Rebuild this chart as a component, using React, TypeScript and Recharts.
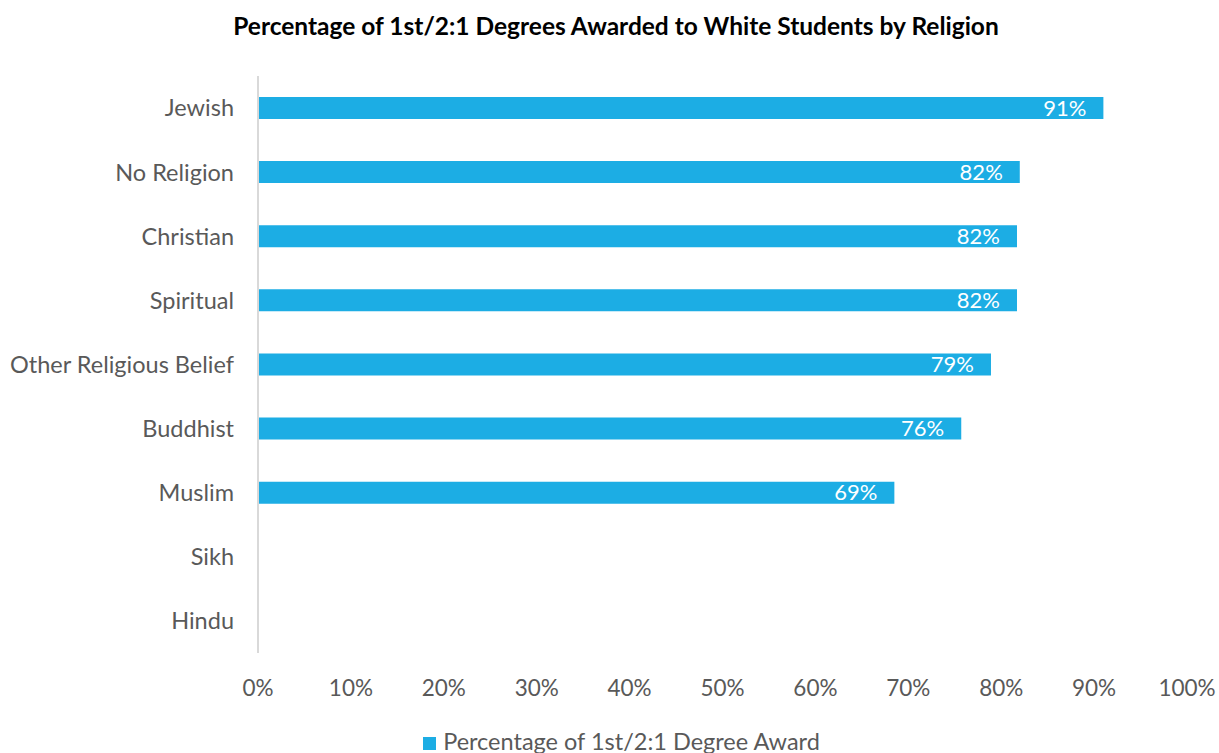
import { BarChart, Bar, XAxis, YAxis, Legend, LabelList } from 'recharts';

const categories = [
  'Jewish',
  'No Religion',
  'Christian',
  'Spiritual',
  'Other Religious Belief',
  'Buddhist',
  'Muslim',
  'Sikh',
  'Hindu',
];
const awardPct: (number | null)[] = [91.0, 82.0, 81.7, 81.7, 78.9, 75.7, 68.5, null, null];
const xTicks = [0, 10, 20, 30, 40, 50, 60, 70, 80, 90, 100];

const seriesName = 'Percentage of 1st/2:1 Degree Award';
const BLUE = '#1CADE4';
const FONT = 'Lato, "Open Sans", sans-serif';

const chartData = categories.map((name, i) => ({ name, value: awardPct[i] }));

const LegendContent = () => (
  <div
    style={{
      display: 'flex',
      justifyContent: 'center',
      alignItems: 'center',
      height: 30,
      paddingTop: 3,
      marginLeft: 56,
      fontFamily: FONT,
      fontSize: 23.5,
      color: '#595959',
    }}
  >
    <span style={{ display: 'inline-block', width: 13, height: 13, background: BLUE, marginRight: 7, marginTop: 4 }} />
    {seriesName}
  </div>
);

const App = () => {
  return (
    <div style={{ position: 'absolute', left: 0, top: 0, width: 1219, height: 753, background: '#fff' }}>
      <div
        style={{
          position: 'absolute',
          top: 11,
          left: 0,
          width: 1232,
          textAlign: 'center',
          fontFamily: FONT,
          fontWeight: 'bold',
          fontSize: 24.5,
          color: '#000',
        }}
      >
        Percentage of 1st/2:1 Degrees Awarded to White Students by Religion
      </div>
      <BarChart
        width={1219}
        height={753}
        data={chartData}
        layout="vertical"
        margin={{ top: 76, right: 32, left: 0, bottom: 0 }}
      >
        <XAxis
          type="number"
          domain={[0, 100]}
          ticks={xTicks}
          tickFormatter={(v: number) => `${v}%`}
          axisLine={false}
          tickLine={false}
          tickSize={0}
          tickMargin={27}
          height={70}
          tick={{ fill: '#595959', fontSize: 22.5, fontFamily: FONT }}
          interval={0}
        />
        <YAxis
          type="category"
          dataKey="name"
          width={258}
          axisLine={{ stroke: '#d9d9d9', strokeWidth: 2 }}
          tickLine={false}
          tickSize={0}
          tickMargin={24}
          tick={{ fill: '#595959', fontSize: 23.5, fontFamily: FONT }}
          interval={0}
        />
        <Legend
          verticalAlign="bottom"
          align="center"
          height={30}
          content={<LegendContent />}
        />
        <Bar dataKey="value" name={seriesName} fill={BLUE} barSize={22} isAnimationActive={false}>
          <LabelList
            dataKey="value"
            position="insideRight"
            offset={17}
            fill="#fff"
            fontSize={22}
            fontFamily={FONT}
            formatter={(v: any) => (v == null ? '' : `${Math.round(v)}%`)}
          />
        </Bar>
      </BarChart>
    </div>
  );
};

export default App;
